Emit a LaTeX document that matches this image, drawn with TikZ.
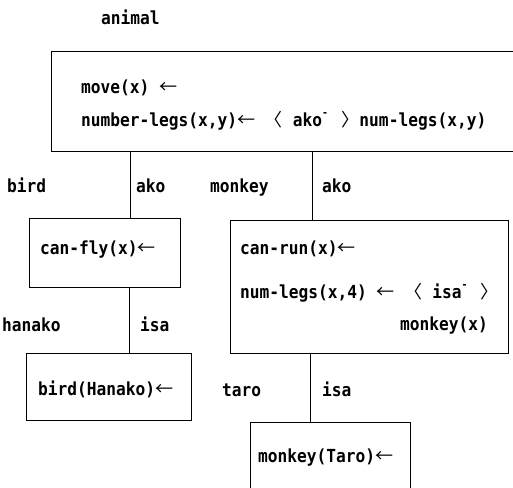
\documentclass[tikz,border=0pt]{standalone}
\usepackage{fontspec}
\setmainfont{DejaVu Sans Mono}[FakeStretch=0.9]
\newfontfamily\cjk{Noto Sans CJK JP}
\newcommand{\larr}{{\cjk\mdseries ←}}
\newcommand{\lbra}{{\cjk\mdseries 〈}}
\newcommand{\rbra}{{\cjk\mdseries 〉}}
\newcommand{\inv}{\makebox[0.54em][l]{\raisebox{0.55em}{\fontsize{11}{11}\selectfont -}}}

\begin{document}
\begin{tikzpicture}[x=1pt,y=-1pt,
  txt/.style={anchor=base west,inner sep=0pt,font=\fontsize{18}{21}\selectfont\bfseries},
  frame/.style={draw,line width=0.8pt,anchor=north west,inner sep=0pt,outer sep=0pt}]
\useasboundingbox (0,0) rectangle (513,487);

% frames
\node[frame,minimum width=480pt,minimum height=100pt] (animalbox) at (51,51) {};
\node[frame,minimum width=151pt,minimum height=69pt] (flybox) at (29,218) {};
\node[frame,minimum width=278pt,minimum height=133pt] (runbox) at (230,220) {};
\node[frame,minimum width=165pt,minimum height=67pt] (hanakobox) at (26,353) {};
\node[frame,minimum width=160pt,minimum height=80pt] (tarobox) at (250,422) {};

% links
\coordinate (birdx) at (130,0);
\coordinate (monkeyx) at (312,0);
\coordinate (hanakox) at (129.5,0);
\coordinate (tarox) at (310,0);
\draw[line width=0.8pt] (animalbox.south -| birdx) -- (flybox.north -| birdx);
\draw[line width=0.8pt] (animalbox.south -| monkeyx) -- (runbox.north -| monkeyx);
\draw[line width=0.8pt] (flybox.south -| hanakox) -- (hanakobox.north -| hanakox);
\draw[line width=0.8pt] (runbox.south -| tarox) -- (tarobox.north -| tarox);

% names
\node[txt] (animal) at (101,25) {animal};
\node[txt] (bird) at (7,192) {bird};
\node[txt] (ako1) at (136,192) {ako};
\node[txt] (monkey) at (210,192) {monkey};
\node[txt] (ako2) at (322,192) {ako};
\node[txt] (hanako) at (2,331) {hanako};
\node[txt] (isa1) at (140,331) {isa};
\node[txt] (taro) at (222,396) {taro};
\node[txt] (isa2) at (322,396) {isa};

% rules
\node[txt] (move) at (81,93) {move(x) \larr};
\node[txt] (numberlegs) at (81,126) {number-legs(x,y)\larr{} \lbra{} ako\inv{} \rbra num-legs(x,y)};
\node[txt] (canfly) at (40,254) {can-fly(x)\larr};
\node[txt] (canrun) at (240,254) {can-run(x)\larr};
\node[txt] (numlegs) at (240,298) {num-legs(x,4) \larr{} \lbra{} isa\inv{} \rbra};
\node[txt,anchor=base east] (monkeyof) at (488,330) {monkey(x)};
\node[txt] (birdhanako) at (38,395) {bird(Hanako)\larr};
\node[txt] (monkeytaro) at (258,462) {monkey(Taro)\larr};
\end{tikzpicture}
\end{document}
